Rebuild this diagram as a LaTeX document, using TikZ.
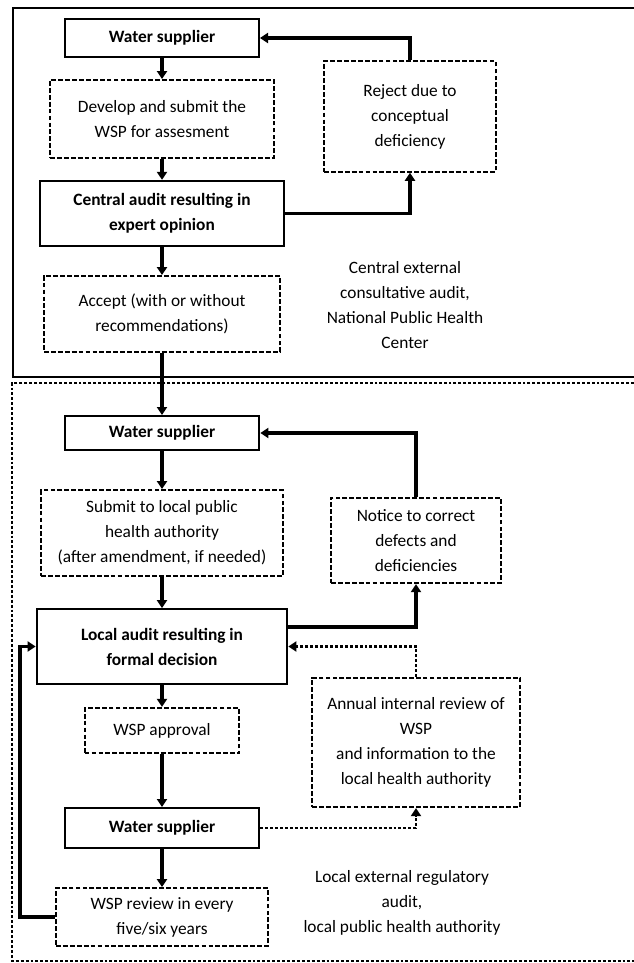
\documentclass[tikz,border=0pt]{standalone}
\usepackage{fontspec}
\setmainfont{Carlito}
\usepackage{tikz}
\usetikzlibrary{positioning,arrows.meta}

\begin{document}
\begin{tikzpicture}[
    x=0.75pt, y=-0.75pt,
    every node/.style={font=\fontsize{13}{18.75}\selectfont, align=center, inner sep=0pt},
    solidbox/.style={draw, line width=1.5pt, font=\fontsize{13}{18.75}\selectfont\bfseries},
    dashbox/.style={draw, line width=1.4pt, dash pattern=on 3.6pt off 1.6pt},
    flow/.style={line width=2.5pt, -{Triangle[length=6pt,width=7.5pt]}},
    dotflow/.style={line width=2.2pt, dash pattern=on 2.2pt off 1.5pt, -{Triangle[length=6pt,width=7.5pt]}},
    frame/.style={line width=2.2pt},
]
\useasboundingbox (0,0) rectangle (634,963);

\draw[frame] (634,8) -- (13,8) -- (13,377) -- (634,377);
\draw[frame, dash pattern=on 2.2pt off 1.5pt] (634,383) -- (12,383) -- (12,961) -- (634,961);

\node[solidbox, minimum width=145.5pt, minimum height=28.5pt] (ws1) at (162,38) {Water supplier};
\node[dashbox, minimum width=168pt, minimum height=58.5pt] (develop) at (162,119) {Develop and submit the\\WSP for assesment};
\node[dashbox, minimum width=129pt, minimum height=83pt] (reject) at (410,116.5) {Reject due to\\conceptual\\deficiency};
\node[solidbox, minimum width=183pt, minimum height=49pt] (central) at (162,213.5) {Central audit resulting in\\expert opinion};
\node[dashbox, minimum width=177pt, minimum height=57pt] (accept) at (162,314) {Accept (with or without\\recommendations)};
\node (centraltxt) at (405,305) {Central external\\consultative audit,\\National Public Health\\Center};

\node[solidbox, minimum width=146pt, minimum height=25.5pt] (ws2) at (162,433) {Water supplier};
\node[dashbox, minimum width=181pt, minimum height=64.5pt] (submit) at (162,533) {Submit to local public\\health authority\\(after amendment, if needed)};
\node[dashbox, minimum width=127.5pt, minimum height=64pt] (notice) at (416,540.5) {Notice to correct\\defects and\\deficiencies};
\node[solidbox, minimum width=188pt, minimum height=56pt] (local) at (162,646.5) {Local audit resulting in\\formal decision};
\node[dashbox, minimum width=116pt, minimum height=34pt] (approval) at (162,730.5) {WSP approval};
\node[dashbox, minimum width=156pt, minimum height=97pt] (annual) at (416,742.5) {Annual internal review of\\WSP\\and information to the\\local health authority};
\node[solidbox, minimum width=146pt, minimum height=30pt] (ws3) at (162,828) {Water supplier};
\node[dashbox, minimum width=159pt, minimum height=43.5pt] (review) at (162,917) {WSP review in every\\five/six years};
\node (localtxt) at (402,903) {Local external regulatory\\audit,\\local public health authority};

\coordinate (backbend) at (20,0);

\draw[flow] (ws1.south) -- (develop.north);
\draw[flow] (develop.south) -- (central.north);
\draw[flow] (central.south) -- (accept.north);
\draw[flow] (accept.south) -- (ws2.north);
\draw[flow] (ws2.south) -- (submit.north);
\draw[flow] (submit.south) -- (local.north);
\draw[flow] (local.south) -- (approval.north);
\draw[flow] (approval.south) -- (ws3.north);
\draw[flow] (ws3.south) -- (review.north);

\draw[flow] (reject.north) |- (ws1.east);
\draw[flow] (central.east) -| (reject.south);
\draw[flow] (notice.north) |- (ws2.east);
\draw[flow] ([yshift=-14pt]local.north east) -| (notice.south);
\draw[dotflow] (annual.north) |- (local.east);
\draw[dotflow] (ws3.east) -| (annual.south);
\draw[flow] (review.west) -- (review.west -| backbend) -- (local.west -| backbend) -- (local.west);
\end{tikzpicture}
\end{document}
